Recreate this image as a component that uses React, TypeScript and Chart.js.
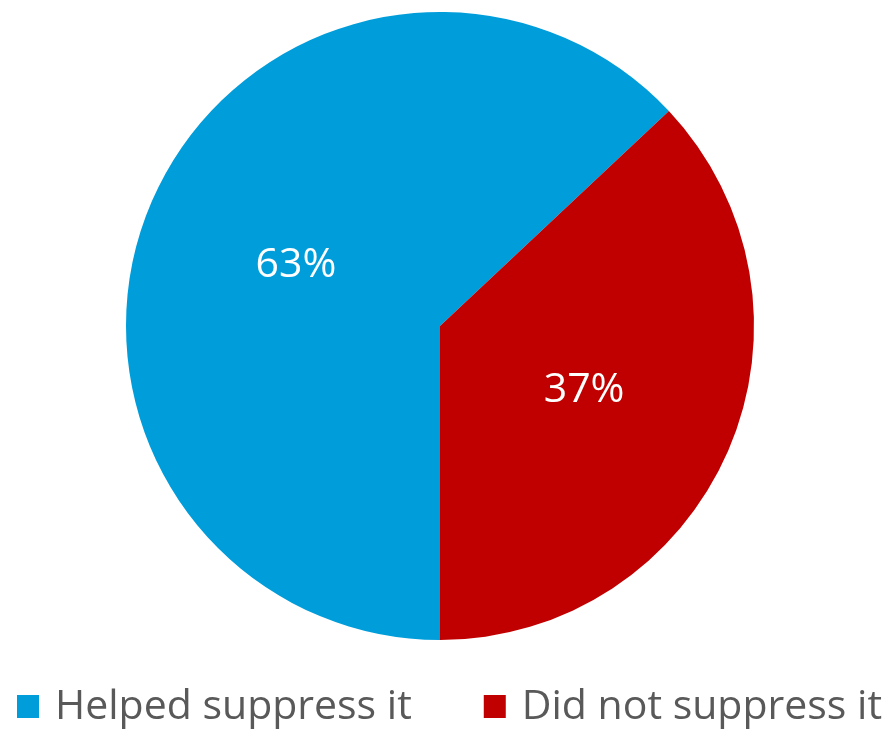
import React, { useEffect, useRef } from "react";
import { Chart, registerables } from "chart.js";

Chart.register(...registerables);

const categories = ["Helped suppress it", "Did not suppress it"];
const shares = [63, 37];
const colors = ["#009DDB", "#C00000"];

const FONT = "'Open Sans', 'Liberation Sans', Arial, sans-serif";

const sliceLabels = {
  id: "sliceLabels",
  afterDatasetsDraw(chart: any) {
    const ctx = chart.ctx;
    const meta = chart.getDatasetMeta(0);
    ctx.save();
    ctx.fillStyle = "#FFFFFF";
    ctx.font = `41px ${FONT}`;
    ctx.textAlign = "center";
    ctx.textBaseline = "middle";
    meta.data.forEach((arc: any, i: number) => {
      const p = arc.getProps(["x", "y", "startAngle", "endAngle", "outerRadius"], true);
      const mid = (p.startAngle + p.endAngle) / 2;
      const r = p.outerRadius * 0.5;
      ctx.fillText(`${shares[i]}%`, p.x + Math.cos(mid) * r, p.y + Math.sin(mid) * r + 2);
    });
    ctx.restore();
  },
};

const bottomLegend = {
  id: "bottomLegend",
  afterDraw(chart: any) {
    const ctx = chart.ctx;
    const labels: string[] = chart.data.labels;
    const bg: string[] = chart.data.datasets[0].backgroundColor;
    ctx.save();
    ctx.font = `41px ${FONT}`;
    const box = 22;
    const gapText = 16;
    const gapItem = 72;
    const widths = labels.map((l) => box + gapText + ctx.measureText(l).width);
    const total = widths.reduce((a, b) => a + b, 0) + gapItem * (labels.length - 1);
    let x = chart.width / 2 + 4 - total / 2;
    const yMid = 707;
    ctx.textBaseline = "middle";
    ctx.textAlign = "left";
    labels.forEach((l, i) => {
      ctx.fillStyle = bg[i];
      ctx.fillRect(x, yMid - box / 2 - 1, box, box + 1);
      ctx.fillStyle = "#595959";
      ctx.fillText(l, x + box + gapText, yMid);
      x += widths[i] + gapItem;
    });
    ctx.restore();
  },
};

export default function App() {
  const ref = useRef<HTMLCanvasElement>(null);
  useEffect(() => {
    if (!ref.current) return;
    const chart = new Chart(ref.current, {
      type: "pie",
      data: {
        labels: categories,
        datasets: [
          {
            data: shares,
            backgroundColor: colors,
            borderWidth: 0,
          },
        ],
      },
      options: {
        animation: false,
        responsive: false,
        rotation: 180,
        layout: { padding: { top: 12, bottom: 89, left: 0, right: 11 } },
        plugins: {
          legend: { display: false },
          tooltip: { enabled: false },
        },
      },
      plugins: [sliceLabels, bottomLegend],
    });
    return () => chart.destroy();
  }, []);
  return (
    <div style={{ position: "fixed", left: 0, top: 0, width: 891, height: 729, background: "#fff" }}>
      <canvas ref={ref} width={891} height={729} style={{ width: 891, height: 729 }} />
    </div>
  );
}
